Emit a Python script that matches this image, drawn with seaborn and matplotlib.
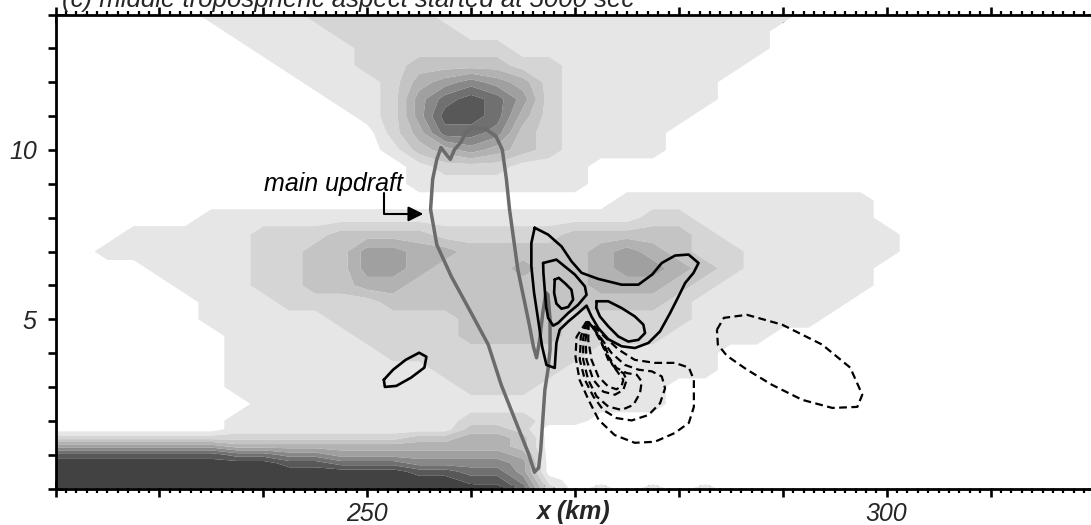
import numpy as np
import matplotlib
matplotlib.use("Agg")
import matplotlib.pyplot as plt
import seaborn as sns

# ---------------- data ----------------
x_grid = [220.0 + 2.5 * i for i in range(41)]          # km
z_grid = [14.0, 13.5, 13.0, 12.5, 12.0, 11.5, 11.0, 10.5, 10.0, 9.5, 9.0, 8.5,
          8.0, 7.5, 7.0, 6.5, 6.0, 5.5, 5.0, 4.5, 4.0, 3.5, 3.0, 2.5,
          2.0, 1.75, 1.5, 1.25, 1.0, 0.75, 0.5, 0.25, 0.0]  # km

# shading class of each grid cell (0 = white ... 9 = darkest), one string per z row
shade_rows = [
    "000000 1111 22222 11111111111111 000000000000",
    "0000000 111 1 22222 111111111111 0000000000000",
    "00000000 1111 222222 1111111111 0000000000000",
    "000000000 111 2 2 3333 22 1111111 00000000000000",
    "0000000000 111 2 4565 42 111111 000000000000000",
    "00000000000 11 2 5787 52 111111 000000000000000",
    "000000000000 1 2 5887 42 11111 0000000000000000",
    "0000000000000 2 4776 32 1111 00000000000000000",
    "0000000000000 1 3454 32 1111 00000000000000000",
    "00000000000000 1222111 00000000000000000000",
    "00000000000000 1111111 00000000000000000000",
    "0000000000000000000000 1111111111 000000000",
    "000000 11111111111111111 22 1111111 000000000",
    "000 11111 22 2 3333 22222 33333 2 1111111 00000000",
    "00 111111 22 33 55 4 4 33333 4543 22 111111 00000000",
    "0000 1111 22 33 55 4 333 4 33 45543 2 11111 000000000",
    "00000 111 22 33 44 3333333 444 3 2 111111 000000000",
    "000000 111 2222 33333333333 2 111111 0000000000",
    "000000 11111 22222 3333 22222 11111 00000000000",
    "0000000 11111 2222 3333 2222 1111 0000000000000",
    "0000000 111111 22222222 11111 000000000000000",
    "0000000 11111111 22222 111111 000000000000000",
    "0000000 111111111 222 11111 00000000000000000",
    "00000000 1111111111111111 00000000000000000",
    "0000000 111111111 222 11 00000000000000000000",
    "0000000 1111111 11 33 2 0000000000000000000000",
    "2222222 2222222 33 44 3 0000000000000000000000",
    "5555555 44444444444 3 0000000000000000000000",
    "8888888 77 66 555 55 55 4 0000000000000000000000",
    "999999999 88 777 66 66 5 0000000000000000000000",
    "99999999999999 88 77 5 0000000000000000000000",
    "9999999999999999 88 6 1 000000000000000000000",
    "999999999999999999 7 2 0 1 0 1 0 1 000000000000000",
]
shade_colors = ["#ffffff", "#e6e6e6", "#d5d5d5", "#c4c4c4", "#b2b2b2",
                "#a0a0a0", "#888888", "#707070", "#585858", "#424242"]

# main updraft (grey contour)
updraft_x = [266.1, 265.5, 264.5, 262.9, 261.65, 260.0, 258.1, 256.7, 256.1, 256.3,
             256.7, 257.1, 257.6, 258.0, 258.4, 259.0, 259.5, 260.2, 261.45, 262.4,
             263.0, 263.4, 263.7, 264.1, 264.5, 265.1, 265.6, 266.0, 266.3, 266.6,
             266.9, 267.2, 267.4, 267.6, 267.6, 267.4, 267.1, 266.9, 266.7, 266.5]
updraft_z = [0.49, 1.05, 1.82, 3.06, 4.25, 5.19, 6.26, 7.20, 8.24, 9.13,
             9.72, 10.07, 9.87, 9.72, 10.01, 10.22, 10.52, 10.67, 10.61, 10.40,
             10.01, 9.13, 8.24, 7.35, 6.46, 5.58, 4.84, 4.19, 3.86, 4.39,
             5.19, 5.78, 5.72, 4.99, 4.10, 3.51, 2.91, 2.03, 1.14, 0.61]

# positive (solid) contours
small_x = [251.6, 252.5, 253.7, 255.0, 255.7, 255.5, 254.2, 252.8, 251.7]
small_z = [3.21, 3.51, 3.80, 4.01, 3.89, 3.57, 3.27, 3.03, 3.00]
outer_x = [266.12, 267.41, 268.70, 269.66, 270.63, 272.24, 274.49, 276.10, 277.43, 278.35,
           279.63, 280.93, 281.89, 281.41, 280.60, 279.96, 279.15, 278.18, 277.07, 275.77,
           274.49, 273.20, 272.24, 271.59, 271.11, 270.31, 269.34, 268.53, 268.21, 268.12,
           268.05, 267.25, 266.83, 266.45, 266.06, 265.80, 265.80]
outer_z = [7.70, 7.50, 7.15, 6.71, 6.37, 6.19, 6.02, 6.02, 6.32, 6.66,
           6.88, 6.91, 6.66, 6.37, 6.07, 5.67, 5.18, 4.64, 4.30, 4.15,
           4.20, 4.41, 4.74, 5.08, 5.40, 5.18, 4.93, 4.69, 4.30, 3.90,
           3.56, 3.65, 4.20, 4.99, 5.78, 6.56, 7.25]
midL_x = [266.93, 268.21, 269.98, 270.95, 271.11, 270.31, 269.34, 268.38, 267.90, 267.41,
          267.22, 267.09, 266.96]
midL_z = [6.66, 6.76, 6.32, 5.97, 5.72, 5.43, 5.18, 4.89, 4.81, 5.04, 5.38, 5.87, 6.37]
midR_x = [272.08, 273.20, 274.49, 275.77, 276.58, 276.74, 276.10, 275.13, 274.17, 273.20,
          272.40, 272.05]
midR_z = [5.53, 5.53, 5.33, 5.08, 4.84, 4.59, 4.39, 4.34, 4.49, 4.79, 5.08, 5.33]
inner_x = [268.05, 268.44, 269.08, 269.66, 269.82, 269.34, 268.70, 268.21, 267.99]
inner_z = [6.17, 6.22, 6.05, 5.87, 5.58, 5.36, 5.31, 5.46, 5.78]

# negative (dashed) contours
negA_x = [271.11, 270.15, 270.05, 270.44, 271.30, 272.27, 273.81, 275.75, 277.68, 279.61,
          280.96, 281.44, 281.44, 280.96, 279.61, 277.68, 275.75, 274.20, 272.85, 271.88]
negA_z = [4.93, 4.48, 3.89, 3.21, 2.62, 2.03, 1.58, 1.35, 1.38, 1.64,
          1.94, 2.41, 3.21, 3.57, 3.71, 3.71, 3.80, 4.10, 4.48, 4.78]
negB_x = [271.11, 270.56, 270.46, 270.95, 271.76, 272.72, 274.00, 275.45, 277.07, 278.19,
          278.67, 278.35, 277.39, 276.10, 274.81, 273.52, 272.39, 271.59]
negB_z = [4.93, 4.49, 3.80, 3.21, 2.72, 2.32, 2.08, 2.01, 2.17, 2.52,
          2.96, 3.31, 3.46, 3.51, 3.65, 4.00, 4.49, 4.79]
negC_x = [271.18, 270.79, 270.79, 271.27, 272.08, 273.20, 274.49, 275.62, 276.26, 276.42,
          275.94, 274.97, 274.00, 273.20, 272.39, 271.76]
negC_z = [4.93, 4.44, 3.80, 3.21, 2.72, 2.42, 2.32, 2.47, 2.82, 3.16,
          3.36, 3.41, 3.56, 3.90, 4.39, 4.74]
negD_x = [271.27, 271.01, 271.11, 271.76, 272.72, 273.84, 274.65, 274.97, 274.65, 274.00,
          273.20, 272.56, 271.91]
negD_z = [4.93, 4.39, 3.80, 3.21, 2.86, 2.77, 2.91, 3.21, 3.41, 3.51, 3.80, 4.30, 4.69]
negE_x = [271.33, 271.27, 271.59, 272.24, 273.20, 274.00, 274.49, 274.65, 274.17, 273.52,
          272.88, 272.08]
negE_z = [4.91, 4.39, 3.80, 3.31, 3.01, 2.93, 3.03, 3.21, 3.41, 3.70, 4.20, 4.64]
negR_x = [283.66, 284.33, 286.55, 289.93, 293.79, 296.49, 297.65, 297.17, 294.76, 291.86,
          288.97, 286.55, 284.62, 283.75]
negR_z = [4.69, 5.04, 5.13, 4.84, 4.25, 3.57, 2.77, 2.41, 2.38, 2.62,
          3.06, 3.51, 3.92, 4.25]

x_major = [220, 230, 240, 250, 260, 270, 280, 290, 300, 310, 320]
x_major_labels = ["", "", "", "250", "", "", "", "", "300", "", ""]
z_ticks = list(range(0, 15))
z_labels = ["10" if t == 10 else ("5" if t == 5 else "") for t in z_ticks]

# ---------------- style ----------------
sns.set_theme(style="white")
plt.rcParams["font.family"] = ["Liberation Sans", "DejaVu Sans"]

W, H = 1091, 525
fig = plt.figure(figsize=(W / 100, H / 100), dpi=100)
ax = fig.add_axes([55.5 / W, (H - 488.5) / H, 1039 / W, 474 / H])

field = np.array([[int(c) for c in r.replace(" ", "")] for r in shade_rows], dtype=float)
assert field.shape == (len(z_grid), len(x_grid)), field.shape
ax.contourf(x_grid, z_grid, field, levels=np.arange(-0.5, 10.0, 1.0),
            colors=shade_colors, antialiased=True)


def loop(xs, zs):
    return list(xs) + [xs[0]], list(zs) + [zs[0]]


lx, lz = loop(updraft_x, updraft_z)
sns.lineplot(x=lx, y=lz, sort=False, estimator=None, ax=ax, color="#6b6b6b",
             linewidth=2.5, solid_joinstyle="round", zorder=5)

for xs, zs in [(small_x, small_z), (outer_x, outer_z), (midL_x, midL_z),
               (midR_x, midR_z), (inner_x, inner_z)]:
    cx, cz = loop(xs, zs)
    sns.lineplot(x=cx, y=cz, sort=False, estimator=None, ax=ax, color="black",
                 linewidth=1.9, solid_joinstyle="round", zorder=6)

for xs, zs in [(negA_x, negA_z), (negB_x, negB_z), (negC_x, negC_z),
               (negD_x, negD_z), (negE_x, negE_z), (negR_x, negR_z)]:
    cx, cz = loop(xs, zs)
    ax.plot(cx, cz, color="black", linewidth=1.6, linestyle=(0, (3.5, 2.0)), zorder=6)

# annotation
ax.text(246.8, 9.0, "main updraft", fontsize=18, style="italic", ha="center",
        va="center", color="black", zorder=8)
ax.annotate("", xy=(255.4, 8.11), xytext=(251.62, 8.72),
            arrowprops=dict(arrowstyle="-|>,head_length=0.5,head_width=0.25",
                            connectionstyle="angle,angleA=90,angleB=0,rad=0",
                            color="black", lw=1.5, shrinkA=0, shrinkB=0,
                            mutation_scale=18), zorder=8)

# axes
ax.set_xlim(220, 320)
ax.set_ylim(0, 14)
ax.set_xlabel("")
ax.set_ylabel("")
ax.set_xticks(x_major)
ax.set_xticklabels(x_major_labels, fontsize=18, style="italic")
ax.set_xticks(list(range(220, 321)), minor=True)
ax.set_yticks(z_ticks)
ax.set_yticklabels(z_labels, fontsize=18, style="italic")
ax.tick_params(axis="x", which="major", direction="inout", length=11, width=1.9,
               top=True, bottom=True, pad=4, color="black")
ax.tick_params(axis="x", which="minor", direction="inout", length=6, width=1.6,
               top=True, bottom=True, color="black")
ax.tick_params(axis="y", which="major", direction="inout", length=11, width=1.9,
               left=True, right=True, pad=8, color="black")
for s in ax.spines.values():
    s.set_visible(True)
    s.set_color("black")
    s.set_linewidth(2.0)

fig.text(573 / W, (H - 500) / H, "x (km)", fontsize=18, style="italic",
         weight="bold", ha="center", va="top")
fig.text(62 / W, 1 - 7.5 / H, "(c) middle tropospheric aspect started at 5000 sec",
         fontsize=18.5, style="italic", ha="left", va="baseline")

fig.savefig("out.png", dpi=100)
